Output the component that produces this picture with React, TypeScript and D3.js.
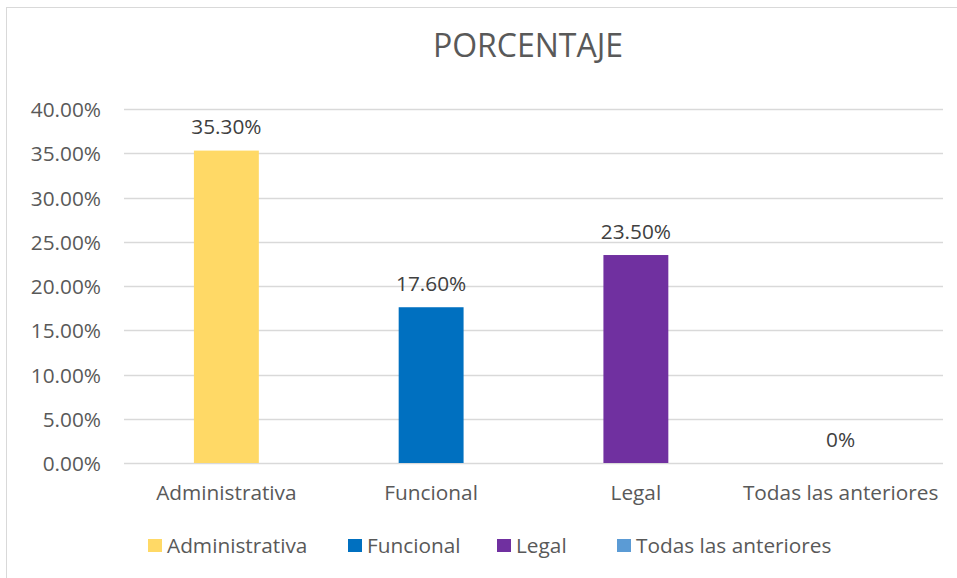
import React from "react";
import * as d3 from "d3";

const categories = ["Administrativa", "Funcional", "Legal", "Todas las anteriores"];
const values = [0.353, 0.176, 0.235, 0];
const valueLabels = ["35.30%", "17.60%", "23.50%", "0%"];
const colors = ["#FFD966", "#0070C0", "#7030A0", "#5B9BD5"];
const yTicks = [0, 0.05, 0.1, 0.15, 0.2, 0.25, 0.3, 0.35, 0.4];
const title = "PORCENTAJE";

const W = 957;
const H = 578;
const FONT = "Open Sans, Noto Sans, sans-serif";
const TEXT = "#595959";
const FS = 20.8;

export default function App() {
  const x = d3.scaleBand<string>().domain(categories).range([124, 943]).padding(0);
  const y = d3.scaleLinear().domain([0, 0.4]).range([463, 109]);
  const barW = x.bandwidth() * 0.317;
  const fmt = d3.format(".2%");

  const legendX = [148, 348, 497, 617];

  return (
    <svg width={W} height={H} style={{ position: "absolute", left: 0, top: 0 }}>
      <rect x={0} y={0} width={W} height={H} fill="#fff" />
      <rect x={6.5} y={7.5} width={W + 10} height={H + 10} fill="#fff" stroke="#D9D9D9" strokeWidth={1} />
      <text x={528} y={57} textAnchor="middle" fontFamily={FONT} fontSize={32} fill={TEXT}>
        {title}
      </text>
      {yTicks.map((t) => (
        <g key={t}>
          <line x1={124} x2={943} y1={Math.round(y(t)) + 0.5} y2={Math.round(y(t)) + 0.5} stroke="#D9D9D9" strokeWidth={1.3} />
          <text x={101} y={y(t) + 8} textAnchor="end" fontFamily={FONT} fontSize={FS} fill={TEXT}>
            {fmt(t)}
          </text>
        </g>
      ))}
      {categories.map((c, i) => {
        const cx = (x(c) as number) + x.bandwidth() / 2;
        return (
          <g key={c}>
            {values[i] > 0 && (
              <rect x={cx - barW / 2} y={y(values[i])} width={barW} height={y(0) - y(values[i])} fill={colors[i]} />
            )}
            <text x={cx} y={y(values[i]) - 16.5} textAnchor="middle" fontFamily={FONT} fontSize={FS} fill="#404040">
              {valueLabels[i]}
            </text>
            <text x={cx} y={500} textAnchor="middle" fontFamily={FONT} fontSize={FS} fill={TEXT}>
              {c}
            </text>
          </g>
        );
      })}
      {categories.map((c, i) => (
        <g key={"lg" + c}>
          <rect x={legendX[i]} y={539} width={14} height={13} fill={colors[i]} />
          <text x={legendX[i] + 19} y={553} fontFamily={FONT} fontSize={FS} fill={TEXT}>
            {c}
          </text>
        </g>
      ))}
    </svg>
  );
}
